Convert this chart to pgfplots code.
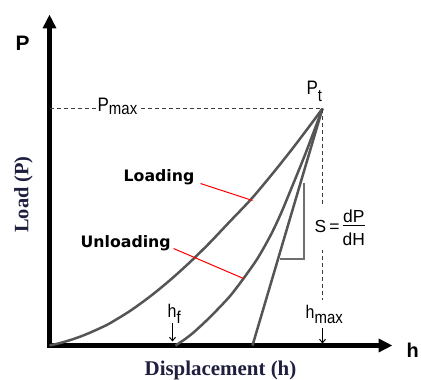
\documentclass[border=0pt]{standalone}
\usepackage{fontspec}
\setmainfont{Liberation Sans}
\newfontfamily\dejavu{DejaVu Sans}
\newfontfamily\libserif{Liberation Serif}
\usepackage{graphicx}
\usepackage{pgfplots}
\pgfplotsset{compat=1.18}
\usetikzlibrary{arrows.meta}
\definecolor{curvegray}{RGB}{85,85,85}
\definecolor{trigray}{RGB}{110,110,110}
\definecolor{navy}{RGB}{30,30,62}
\definecolor{dashgray}{RGB}{60,60,60}
\newcommand{\fs}[1]{\fontsize{#1}{#1}\selectfont}
\newcommand{\vs}[1]{\scalebox{1}[1.15]{#1}}
\begin{document}
\begin{tikzpicture}
\useasboundingbox (0,0) rectangle (421bp,380bp);
\begin{axis}[
  x=1bp, y=1bp,
  anchor=south west, at={(49.5bp,34.5bp)},
  xmin=0, xmax=343, ymin=0, ymax=331,
  axis lines=left, ticks=none, enlargelimits=false, clip=false,
  axis line style={black, line width=4bp, line cap=rect, -{Triangle[length=14bp,width=13bp]}},
]
% loading curve
\addplot[curvegray, line width=2.5bp, smooth] coordinates {
(0,0) (10,2.3) (20,5.2) (30,8.6) (40,12.6) (50,17.1) (60,22) (80,34.2)
(100,48.6) (120,64.9) (140,82.9) (160,102.5) (180,123.6) (201.5,146.2)
(221.6,170.1) (241.8,195.4) (261.9,221.9) (273,237)};
% unloading curve
\addplot[curvegray, line width=2.5bp, smooth] coordinates {
(126,0) (135,6) (144,13) (156,24) (168,36) (181,50) (194,67) (208,87)
(221,110) (231,131) (241,155) (256,192) (273,237)};
% tangent
\addplot[curvegray, line width=2.5bp] coordinates {(203,0) (273,237)};
% slope triangle
\addplot[trigray, line width=2bp] coordinates {(230,86) (254,86) (254,162)};
% dashed guides
\draw[dashgray, line width=1bp, dash pattern=on 4bp off 3bp]
  (axis cs:0,237) -- (axis cs:273,237) -- (axis cs:273,45);
% red leaders
\draw[red, line width=1bp] (axis cs:151,162) -- (axis cs:203,145);
\draw[red, line width=1bp] (axis cs:124,97) -- (axis cs:194,67);
% arrows
\draw[black, line width=1bp, -{Straight Barb[length=3.5bp,width=6bp]}] (axis cs:123,22) -- (axis cs:123,4);
\draw[black, line width=1bp, -{Straight Barb[length=3.5bp,width=6bp]}] (axis cs:273,17) -- (axis cs:273,2);
% labels
\node[anchor=base west, inner sep=0pt, font=\dejavu\bfseries\fs{15.8}] at (axis cs:74,164) {Loading};
\node[anchor=base west, inner sep=0pt, font=\dejavu\bfseries\fs{15.8}] at (axis cs:31,98) {Unloading};
\node[rotate=90, inner sep=0pt, font=\libserif\bfseries\fs{20.5}, text=navy] at (axis cs:-26,151) {Load (P)};
\node[anchor=base, inner sep=0pt, font=\libserif\bfseries\fs{21}, text=navy] at (axis cs:171,-30) {Displacement (h)};
\node[inner sep=0pt, font=\bfseries\fs{21}] at (axis cs:-27,302.5) {P};
\node[anchor=base west, inner sep=0pt, font=\bfseries\fs{20}] at (axis cs:357,-12) {h};
\node[anchor=base west, fill=white, inner xsep=1bp, inner ysep=0pt] at (axis cs:47,234) {\vs{\fs{17}P\raisebox{-3bp}{\fs{15}max}}};
\node[anchor=base west, inner sep=0pt] at (axis cs:257,251) {\vs{\fs{17}P\raisebox{-6bp}{\fs{15}t}}};
\node[anchor=base west, inner sep=0pt] at (axis cs:256,27) {\vs{\fs{16}h\raisebox{-4bp}{\fs{15}max}}};
\node[anchor=base west, inner sep=0pt] at (axis cs:118,28) {\vs{\fs{16}h\raisebox{-5bp}{\fs{15}f}}};
\node[anchor=base west, fill=white, inner xsep=2bp, inner ysep=4bp] at (axis cs:263,113)
  {\fs{17.5}S\hspace{3bp}=\hspace{2bp}\raisebox{3bp}{$\frac{\mbox{dP}}{\mbox{\rule{0pt}{20bp}dH}}$}};
\end{axis}
\end{tikzpicture}
\end{document}
